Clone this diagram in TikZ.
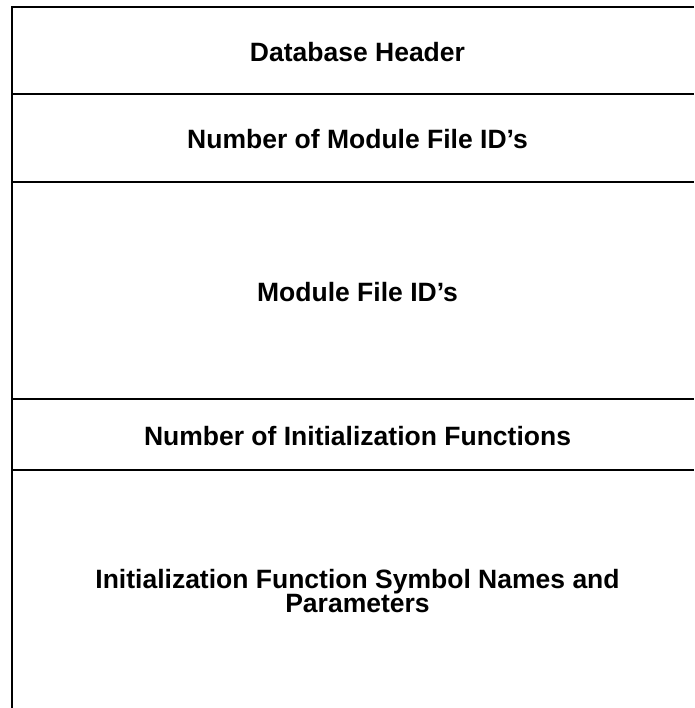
\documentclass[tikz,border=0pt]{standalone}
\usepackage{fontspec}
\setmainfont{Liberation Sans}

\tikzset{rowlabel/.style={font=\bfseries\fontsize{26.5}{21}\selectfont, align=center, inner sep=0pt}}

\begin{document}
\begin{tikzpicture}[x=1pt,y=-1pt,line width=2.4pt]
\useasboundingbox (0,0) rectangle (694,708);
% frame
\draw (694,7)--(12,7)--(12,708);
% rows
\draw (12,94)--(694,94);
\draw (12,182)--(694,182);
\draw (12,399)--(694,399);
\draw (12,470)--(694,470);
% labels
\node[rowlabel] (dbhead) at (357.5,52) {Database Header};
\node[rowlabel] (nummod) at (357.5,139) {Number of Module File ID’s};
\node[rowlabel] (modids) at (357.5,292) {Module File ID’s};
\node[rowlabel] (numinit) at (357.5,436) {Number of Initialization Functions};
\node[rowlabel] (initfn) at (357.5,591) {Initialization Function Symbol Names and\\Parameters};
\end{tikzpicture}
\end{document}
